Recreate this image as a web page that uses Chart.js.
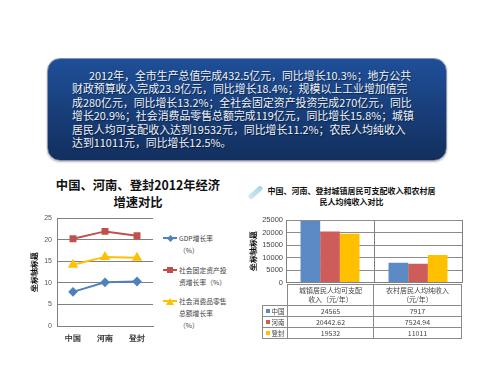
<!DOCTYPE html>
<html><head><meta charset="utf-8">
<style>
html,body{margin:0;padding:0;background:#fff;width:500px;height:375px;overflow:hidden;font-family:"Noto Sans CJK SC","Noto Sans",sans-serif}
.abs{position:absolute}
#box{left:47px;top:58px;width:398px;height:101px;border-radius:13px;border:1px solid #8a93a3;background:linear-gradient(#1f4f98,#122f5e);box-shadow:0 1px 2px rgba(0,0,0,.3)}
.ln{position:absolute;white-space:nowrap;color:#eef3fa;font-size:10.9px;line-height:13px;height:13px;text-shadow:1px 1px 1px rgba(0,0,0,.5)}
.t{position:absolute;white-space:nowrap;text-align:center;font-weight:700;color:#111}
.lg{position:absolute;white-space:nowrap;font-size:6.8px;color:#444;line-height:12px}
.m{position:absolute}
#tb{position:absolute;left:262px;top:284px;border-collapse:collapse;table-layout:fixed;font-size:7px;color:#444}
#tb td{border:1px solid #8a8a8a;padding:0;text-align:center;line-height:9px;white-space:nowrap}
#tb i{display:inline-block;width:4px;height:4px;margin-right:2px;vertical-align:1px}
</style></head><body>
<div id="box" class="abs"></div>
<div class="t" style="left:38px;top:177px;width:200px;font-size:12.3px;line-height:16px">中国、河南、登封2012年经济</div>
<div class="t" style="left:38px;top:194px;width:200px;font-size:12.3px;line-height:16px">增速对比</div>
<div class="abs" style="left:247px;top:190px;width:17px;height:5px;background:linear-gradient(90deg,#cfe8f3,#a6d6e8);border-radius:2px;transform:rotate(-42deg)"></div>
<div class="t" style="left:254px;top:184.5px;width:195px;font-size:8px;line-height:11px">中国、河南、登封城镇居民可支配收入和农村居</div>
<div class="t" style="left:254px;top:195.5px;width:195px;font-size:8px;line-height:11px">民人均纯收入对比</div>
<canvas id="c1" class="abs" style="left:25px;top:205px"></canvas>
<canvas id="c2" class="abs" style="left:245px;top:208px"></canvas>
<div id="legend"></div>
<table id="tb"></table>
<script src="https://cdn.jsdelivr.net/npm/chart.js@4"></script>
<script>
const introLines=[
"2012年，全市生产总值完成432.5亿元，同比增长10.3%；地方公共",
"财政预算收入完成23.9亿元，同比增长18.4%；规模以上工业增加值完",
"成280亿元，同比增长13.2%；全社会固定资产投资完成270亿元，同比",
"增长20.9%；社会消费品零售总额完成119亿元，同比增长15.8%；城镇",
"居民人均可支配收入达到19532元，同比增长11.2%；农民人均纯收入",
"达到11011元，同比增长12.5%。"];
const regions=["中国","河南","登封"];
const gdpGrowth=[7.9,10.1,10.3];
const investGrowth=[20.2,21.9,20.9];
const retailGrowth=[14.2,16,15.8];
const gdpLabel=["GDP增长率","（%）"];
const investLabel=["社会固定资产投","资增长率（%）"];
const retailLabel=["社会消费品零售","总额增长率","（%）"];
const incomeCats=["城镇居民人均可支配收入（元/年）","农村居民人均纯收入（元/年）"];
const incomeCatLines=[["城镇居民人均可支配","收入（元/年）"],["农村居民人均纯收入","（元/年）"]];
const chinaIncome=[24565,7917];
const henanIncome=[20442.62,7524.94];
const dengfengIncome=[19532,11011];
const axisTitle="坐标轴标题";
const BLUE="#4f81bd",RED="#c0504d",YEL="#ffc000",BAR_B="#5b8ac5",BAR_R="#cd5c5a";

const box=document.getElementById('box');
introLines.forEach((s,i)=>{const d=document.createElement('div');d.className='ln';d.textContent=s;d.style.left=(i==0?41:24)+'px';d.style.top=(9.5+i*13.5)+'px';box.appendChild(d);});

const common={responsive:false,animation:false,devicePixelRatio:1};
const cv1=document.getElementById('c1');cv1.width=135;cv1.height=141;
new Chart(cv1,{type:'line',data:{labels:regions,datasets:[
 {label:gdpLabel.join(''),data:gdpGrowth,borderColor:BLUE,backgroundColor:BLUE,borderWidth:2,pointStyle:'rectRot',pointRadius:3.5,tension:0},
 {label:investLabel.join(''),data:investGrowth,borderColor:RED,backgroundColor:RED,borderWidth:2,pointStyle:'rect',pointRadius:3.5,tension:0},
 {label:retailLabel.join(''),data:retailGrowth,borderColor:YEL,backgroundColor:YEL,borderWidth:2,pointStyle:'triangle',pointRadius:4,tension:0}]},
 options:{...common,layout:{padding:{left:5,right:7,top:13,bottom:0}},plugins:{legend:{display:false},tooltip:{enabled:false}},
 scales:{x:{offset:true,afterFit(a){a.height=20},grid:{display:false,drawTicks:false},border:{color:'#808080',width:1},ticks:{color:'#333',font:{size:7.5,weight:'bold'},padding:8,maxRotation:0}},
 y:{min:0,max:25,afterFit(a){a.width=27},grid:{color:'#808080',lineWidth:1,drawTicks:false},border:{color:'#808080',width:1},
 ticks:{stepSize:5,color:'#555',font:{size:7},padding:5},
 title:{display:true,text:axisTitle,color:'#111',font:{size:7.5,weight:'bold'},padding:0}}}}});

const cv2=document.getElementById('c2');cv2.width=222;cv2.height=82;
new Chart(cv2,{type:'bar',data:{labels:incomeCats,datasets:[
 {label:regions[0],data:chinaIncome,backgroundColor:BAR_B},
 {label:regions[1],data:henanIncome,backgroundColor:BAR_R},
 {label:regions[2],data:dengfengIncome,backgroundColor:YEL}]},
 options:{...common,layout:{padding:{left:4,top:12,right:5,bottom:0}},plugins:{legend:{display:false},tooltip:{enabled:false}},
 datasets:{bar:{barPercentage:1,categoryPercentage:0.67}},
 scales:{x:{afterFit(a){a.height=6},ticks:{display:false},grid:{color:'#808080',drawTicks:false},border:{color:'#808080'}},
 y:{min:0,max:25000,afterFit(a){a.width=37},grid:{color:'#8c8c8c',lineWidth:1,drawTicks:false},border:{color:'#808080'},
 ticks:{stepSize:5000,color:'#444',font:{size:7.5},padding:3,callback:v=>String(v)},
 title:{display:true,text:axisTitle,color:'#111',font:{size:7.5,weight:'bold'},padding:0}}}}});

const lg=document.getElementById('legend');
const entries=[[gdpLabel,BLUE],[investLabel,RED],[retailLabel,YEL]];
const marks=['rotate(45deg)','none',null];
entries.forEach((e,i)=>{
 const y=[238,270,301][i];
 const ln=document.createElement('div');ln.className='m';ln.style.cssText=`left:163px;top:${y-1}px;width:14px;height:2px;background:${e[1]}`;lg.appendChild(ln);
 const mk=document.createElement('div');mk.className='m';
 if(i<2){const s=i==0?5:6;mk.style.cssText=`left:${170-s/2}px;top:${y-s/2}px;width:${s}px;height:${s}px;background:${e[1]};transform:${marks[i]}`;}
 else{mk.style.cssText=`left:166px;top:${y-3}px;width:0;height:0;border-left:4px solid transparent;border-right:4px solid transparent;border-bottom:7px solid ${e[1]}`;}
 lg.appendChild(mk);
 e[0].forEach((s,j)=>{const d=document.createElement('div');d.className='lg';d.textContent=s;d.style.left='179px';d.style.top=(y-6+j*12)+'px';lg.appendChild(d);});
});

const tb=document.getElementById('tb');
const colgroup=document.createElement('colgroup');
[25,86,88].forEach(w=>{const c=document.createElement('col');c.style.width=w+'px';colgroup.appendChild(c);});tb.appendChild(colgroup);
const head=document.createElement('tr');head.style.height='21px';
head.innerHTML='<td style="border-left:none;border-top:none"></td>'+incomeCatLines.map(l=>`<td>${l.join('<br>')}</td>`).join('');
tb.appendChild(head);
[[regions[0],chinaIncome,BAR_B],[regions[1],henanIncome,BAR_R],[regions[2],dengfengIncome,YEL]].forEach(r=>{
 const tr=document.createElement('tr');tr.style.height='11px';
 tr.innerHTML=`<td style="font-size:6.5px"><i style="background:${r[2]}"></i>${r[0]}</td>`+r[1].map(v=>`<td>${v}</td>`).join('');
 tb.appendChild(tr);
});
</script>
</body></html>
